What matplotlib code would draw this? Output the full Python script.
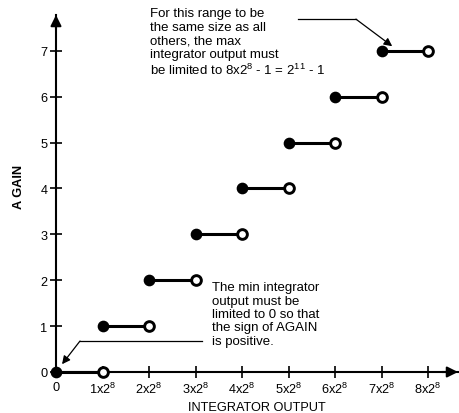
import matplotlib
matplotlib.use("Agg")
import matplotlib.pyplot as plt
import numpy as np

plt.rcParams['font.family'] = ['Liberation Sans', 'DejaVu Sans']
plt.rcParams['mathtext.fontset'] = 'custom'
plt.rcParams['mathtext.rm'] = 'Liberation Sans'
plt.rcParams['mathtext.it'] = 'Liberation Sans'
plt.rcParams['mathtext.bf'] = 'Liberation Sans:bold'
plt.rcParams['mathtext.default'] = 'regular'

# Data
gain = [0, 1, 2, 3, 4, 5, 6, 7]
x_start = [0, 1, 2, 3, 4, 5, 6, 7]   # filled (included) end, units of 2^8
x_end = [1, 2, 3, 4, 5, 6, 7, 8]     # open (excluded) end
x_ticks = [0, 1, 2, 3, 4, 5, 6, 7, 8]
x_tick_labels = ['0'] + [f'{k}x2$^8$' for k in range(1, 9)]
y_ticks = [0, 1, 2, 3, 4, 5, 6, 7]

fig = plt.figure(figsize=(4.6, 4.14), dpi=100)
ax = fig.add_axes([56/460, 41/414, 402/460, 357/414])
ax.set_xlim(0, 8.645)
ax.set_ylim(0, 7.78)

for s in ['top', 'right']:
    ax.spines[s].set_visible(False)
for s in ['left', 'bottom']:
    ax.spines[s].set_linewidth(1.5)
    ax.spines[s].set_zorder(1)

# axis arrowheads
ax.annotate('', xy=(0, 1), xycoords='axes fraction', xytext=(0, 0.96),
            arrowprops=dict(arrowstyle='-|>', mutation_scale=16, lw=1.5, color='k',
                            shrinkA=0, shrinkB=0), annotation_clip=False)
ax.annotate('', xy=(1, 0), xycoords='axes fraction', xytext=(0.96, 0),
            arrowprops=dict(arrowstyle='-|>', mutation_scale=16, lw=1.5, color='k',
                            shrinkA=0, shrinkB=0), annotation_clip=False)

ax.set_xticks(x_ticks)
ax.set_xticklabels(x_tick_labels)
ax.set_yticks(y_ticks)
ax.tick_params(direction='inout', length=8.5, width=1.2, labelsize=9.2, pad=2)

# step segments
for g, a, b in zip(gain, x_start, x_end):
    ax.plot([a, b], [g, g], color='k', lw=2.2, solid_capstyle='butt', zorder=3, clip_on=False)
    ax.plot([a], [g], 'o', color='k', ms=7.4, zorder=4, clip_on=False)
    ax.plot([b], [g], 'o', mfc='white', mec='k', mew=2.1, ms=7.0, zorder=4, clip_on=False)

ax.set_xlabel('INTEGRATOR OUTPUT', fontsize=9.2, labelpad=4)
ax.set_ylabel('A GAIN', fontsize=9.2, fontweight='bold')
ax.yaxis.set_label_coords(-0.076, 0.52)

# annotations
ax.text(2.02, 7.95, 'For this range to be\nthe same size as all\nothers, the max\n'
        'integrator output must\nbe limited to 8x2$^8$ - 1 = 2$^{11}$ - 1',
        fontsize=9.5, va='top', ha='left', linespacing=1.16, clip_on=False)
ax.plot([5.20, 6.45], [7.69, 7.69], color='k', lw=0.9, clip_on=False)
ax.annotate('', xy=(7.23, 7.10), xytext=(6.45, 7.69),
            arrowprops=dict(arrowstyle='-|>', mutation_scale=12, lw=0.9, color='k',
                            shrinkA=0, shrinkB=0), annotation_clip=False)

ax.text(3.355, 1.98, 'The min integrator\noutput must be\nlimited to 0 so that\n'
        'the sign of AGAIN\nis positive.',
        fontsize=9.5, va='top', ha='left', linespacing=1.16)
ax.plot([3.14, 0.516], [0.675, 0.675], color='k', lw=0.9)
ax.annotate('', xy=(0.13, 0.17), xytext=(0.516, 0.675),
            arrowprops=dict(arrowstyle='-|>', mutation_scale=12, lw=0.9, color='k',
                            shrinkA=0, shrinkB=0))

fig.savefig('out.png', dpi=100)
